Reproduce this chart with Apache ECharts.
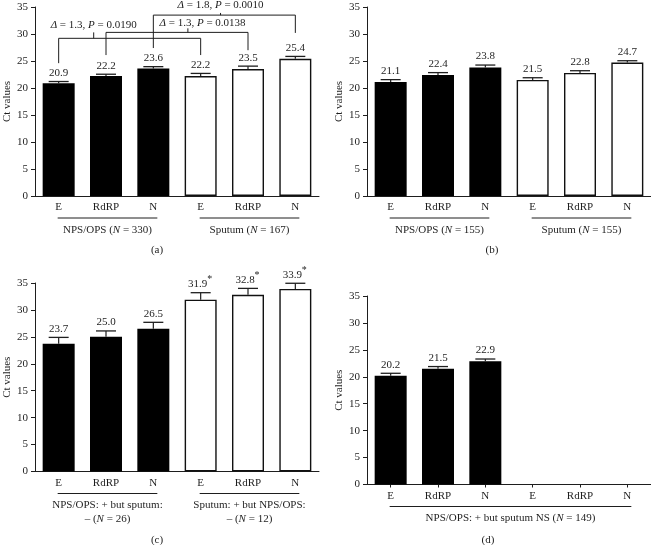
<!DOCTYPE html>
<html><head><meta charset="utf-8">
<script src="https://cdn.jsdelivr.net/npm/echarts@6/dist/echarts.min.js"></script>
<style>html,body{margin:0;padding:0;background:#fff}#c{width:651px;height:545px}</style>
</head><body><div id="c"></div>
<script>
// ---------- data ----------
const categories = ['E', 'RdRP', 'N', 'E', 'RdRP', 'N'];

const valuesA = [20.9, 22.2, 23.6, 22.2, 23.5, 25.4];
const errorsA = [0.3, 0.35, 0.35, 0.5, 0.55, 0.45];
const groupsA = [[0, 2, 'NPS/OPS (N = 330)'], [3, 5, 'Sputum (N = 167)']];

const valuesB = [21.1, 22.4, 23.8, 21.5, 22.8, 24.7];
const errorsB = [0.45, 0.45, 0.45, 0.4, 0.4, 0.35];
const groupsB = [[0, 2, 'NPS/OPS (N = 155)'], [3, 5, 'Sputum (N = 155)']];

const valuesC = [23.7, 25.0, 26.5, 31.9, 32.8, 33.9];
const errorsC = [1.2, 1.1, 1.2, 1.3, 1.2, 1.05];
const starsC = [false, false, false, true, true, true];
const groupsC = [[0, 2, 'NPS/OPS: + but sputum:\n– (N = 26)'], [3, 5, 'Sputum: + but NPS/OPS:\n– (N = 12)']];

const valuesD = [20.2, 21.5, 22.9, null, null, null];
const errorsD = [0.45, 0.4, 0.4, null, null, null];
const groupsD = [[0, 5, 'NPS/OPS: + but sputum NS (N = 149)']];

// comparison brackets in panel (a)
const compFrom = [0, 1, 2];
const compTo = [3, 4, 5];
const compLabels = ['Δ = 1.3, P = 0.0190', 'Δ = 1.3, P = 0.0138', 'Δ = 1.8, P = 0.0010'];
const bracketLevel = [29.2, 30.3, 33.5];
const bracketLegEnds = [[24.6, 26.1], [26.1, 27.0], [27.4, 30.2]];
const bracketTickAt = [0.74, 2.73, 3.42];
const bracketTickTop = [30.3, 31.05, 33.9];
const bracketLabelAt = [0.74, 3.04, 3.42];
const bracketLabelY = [31.7, 32.0, 35.4];

const captions = ['(a)', '(b)', '(c)', '(d)'];

// ---------- styling / layout ----------
const FONT = '"Liberation Serif", "DejaVu Serif", serif';
const INK = '#1e1e1e';
const grids = [
  { left: 35, top: 7, width: 284, height: 189 },
  { left: 367, top: 7, width: 284, height: 189 },
  { left: 35, top: 283, width: 284, height: 188.5 },
  { left: 367, top: 296, width: 284, height: 188.5 }
];
const nameGaps = [22, 22, 22, 22];

function italicize(s, re) { return s.replace(re, m => '{i|' + m + '}'); }

function makeXAxis(gi, ticks) {
  return {
    type: 'category', gridIndex: gi, data: categories,
    axisLine: { lineStyle: { color: INK, width: 1 } },
    axisTick: { show: ticks, length: 3, alignWithLabel: true, lineStyle: { color: INK } },
    axisLabel: { fontFamily: FONT, fontSize: 11, color: INK, margin: 6 }
  };
}
function makeYAxis(gi) {
  return {
    type: 'value', gridIndex: gi, min: 0, max: 35, interval: 5,
    name: 'Ct values', nameLocation: 'middle', nameGap: nameGaps[gi], nameMoveOverlap: false,
    nameTextStyle: { fontFamily: FONT, fontSize: 11, color: INK },
    axisLine: { show: true, lineStyle: { color: INK, width: 1 } },
    axisTick: { show: true, length: 4, lineStyle: { color: INK } },
    axisLabel: { fontFamily: FONT, fontSize: 11, color: INK, margin: 7 },
    splitLine: { show: false }
  };
}

function barSeries(gi, values) {
  return {
    type: 'bar', xAxisIndex: gi, yAxisIndex: gi, barWidth: 32, z: 3,
    data: values.map((v, i) => ({
      value: v == null ? '-' : v,
      itemStyle: i < 3 ? { color: '#000', borderColor: '#000', borderWidth: 0 }
                       : { color: '#fff', borderColor: '#111', borderWidth: 1.4 }
    }))
  };
}

function errorSeries(gi, values, errors, stars) {
  const data = [];
  values.forEach((v, i) => { if (v != null) data.push([i, v, errors[i]]); });
  return {
    type: 'custom', xAxisIndex: gi, yAxisIndex: gi, z: 5, silent: true,
    data: data,
    renderItem(params, api) {
      const i = api.value(0), v = api.value(1), e = api.value(2);
      const base = api.coord([i, v]);
      const top = api.coord([i, v + e]);
      const hw = 10;
      const star = stars && stars[i];
      const children = [
        { type: 'line', shape: { x1: base[0], y1: base[1], x2: base[0], y2: top[1] }, style: { stroke: INK, lineWidth: 1.2 } },
        { type: 'line', shape: { x1: base[0] - hw, y1: top[1], x2: base[0] + hw, y2: top[1] }, style: { stroke: INK, lineWidth: 1.3 } },
        { type: 'text', x: base[0] - (star ? 3 : 0), y: top[1] - 3,
          style: { text: v.toFixed(1), fill: INK, fontFamily: FONT, fontSize: 11, align: 'center', verticalAlign: 'bottom' } }
      ];
      if (star) {
        children.push({ type: 'text', x: base[0] + 6.5, y: top[1] - 8,
          style: { text: '*', fill: INK, fontFamily: FONT, fontSize: 10, align: 'left', verticalAlign: 'bottom' } });
      }
      return { type: 'group', children };
    }
  };
}

function groupSeries(gi, groups) {
  return {
    type: 'custom', xAxisIndex: gi, yAxisIndex: gi, z: 5, silent: true,
    data: groups.map(g => [g[0], 0, g[1]]),
    renderItem(params, api) {
      const g = groups[params.dataIndex];
      const p1 = api.coord([g[0], 0]);
      const p2 = api.coord([g[1], 0]);
      const y = p1[1] + 22;
      const x1 = p1[0] - 1, x2 = p2[0] + 4;
      return { type: 'group', children: [
        { type: 'line', shape: { x1, y1: y, x2, y2: y }, style: { stroke: INK, lineWidth: 1 } },
        { type: 'text', x: (x1 + x2) / 2, y: y + 5,
          style: { text: italicize(g[2], /\bN(?= =)/g), fill: INK, fontFamily: FONT, fontSize: 11,
            align: 'center', verticalAlign: 'top', lineHeight: 14,
            rich: { i: { fontStyle: 'italic', fontFamily: FONT, fontSize: 11, fill: INK, lineHeight: 14 } } } }
      ] };
    }
  };
}

function bracketSeries() {
  return {
    type: 'custom', xAxisIndex: 0, yAxisIndex: 0, z: 6, silent: true,
    data: compFrom.map((f, k) => [f, bracketLevel[k], compTo[k]]),
    renderItem(params, api) {
      const k = params.dataIndex;
      const p0 = api.coord([0, 0]), p1 = api.coord([1, 0]);
      const step = p1[0] - p0[0];
      const xAt = t => p0[0] + t * step;
      const yAt = v => api.coord([0, v])[1];
      const xl = xAt(compFrom[k]), xr = xAt(compTo[k]);
      const yl = yAt(bracketLevel[k]);
      const xt = xAt(bracketTickAt[k]);
      return { type: 'group', children: [
        { type: 'polyline', shape: { points: [[xl, yAt(bracketLegEnds[k][0])], [xl, yl], [xr, yl], [xr, yAt(bracketLegEnds[k][1])]] },
          style: { stroke: INK, lineWidth: 1, fill: null } },
        { type: 'line', shape: { x1: xt, y1: yl, x2: xt, y2: yAt(bracketTickTop[k]) }, style: { stroke: INK, lineWidth: 1 } },
        { type: 'text', x: xAt(bracketLabelAt[k]), y: yAt(bracketLabelY[k]),
          style: { text: italicize(compLabels[k], /Δ|\bP\b/g), fill: INK, fontFamily: FONT, fontSize: 11,
            align: 'center', verticalAlign: 'middle',
            rich: { i: { fontStyle: 'italic', fontFamily: FONT, fontSize: 11, fill: INK } } } }
      ] };
    }
  };
}

const captionPos = [[157, 250], [492, 250], [157, 540], [488, 540]];

const chart = echarts.init(document.getElementById('c'), null, { renderer: 'canvas' });
chart.setOption({
  animation: false,
  backgroundColor: '#fff',
  grid: grids,
  xAxis: [makeXAxis(0, false), makeXAxis(1, false), makeXAxis(2, false), makeXAxis(3, true)],
  yAxis: [makeYAxis(0), makeYAxis(1), makeYAxis(2), makeYAxis(3)],
  graphic: captions.map((c, k) => ({
    type: 'text', x: captionPos[k][0], y: captionPos[k][1],
    style: { text: c, fill: INK, fontFamily: FONT, fontSize: 11, align: 'center', verticalAlign: 'middle' }
  })),
  series: [
    barSeries(0, valuesA), errorSeries(0, valuesA, errorsA, null), groupSeries(0, groupsA), bracketSeries(),
    barSeries(1, valuesB), errorSeries(1, valuesB, errorsB, null), groupSeries(1, groupsB),
    barSeries(2, valuesC), errorSeries(2, valuesC, errorsC, starsC), groupSeries(2, groupsC),
    barSeries(3, valuesD), errorSeries(3, valuesD, errorsD, null), groupSeries(3, groupsD)
  ]
});
</script></body></html>
